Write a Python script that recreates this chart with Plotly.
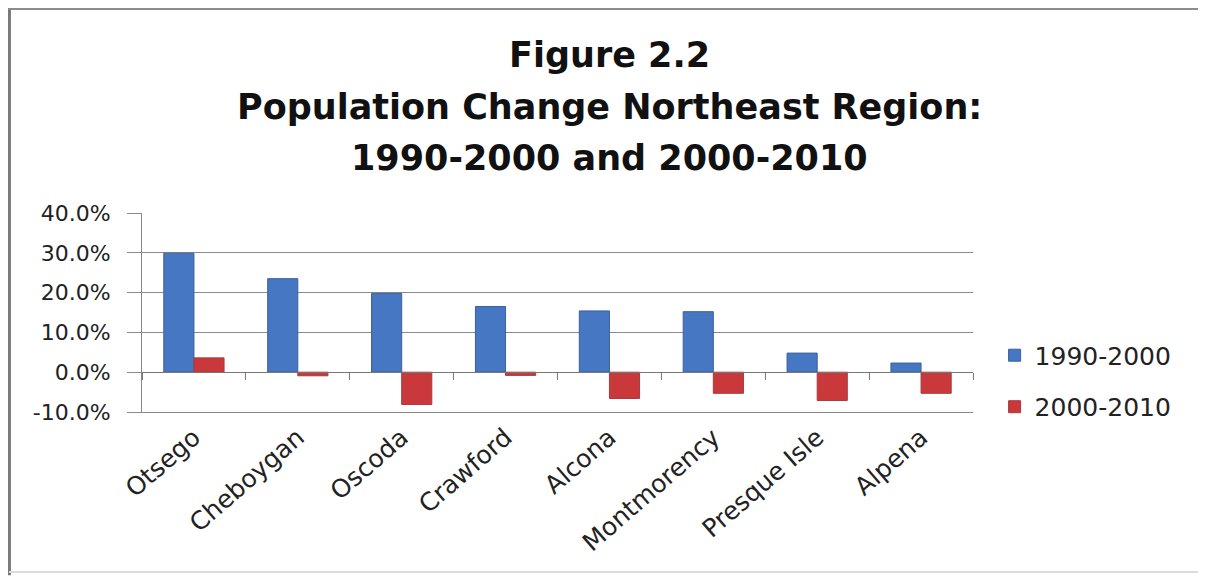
import plotly.graph_objects as go

# Population change by county (percent)
counties = ['Otsego', 'Cheboygan', 'Oscoda', 'Crawford', 'Alcona',
            'Montmorency', 'Presque Isle', 'Alpena']
change_1990_2000 = [29.9, 23.5, 19.8, 16.5, 15.4, 15.2, 4.8, 2.3]
change_2000_2010 = [3.6, -0.9, -8.1, -0.8, -6.6, -5.3, -7.1, -5.3]
y_ticks = [-10, 0, 10, 20, 30, 40]
y_tick_labels = ['-10.0%', '0.0%', '10.0%', '20.0%', '30.0%', '40.0%']
title_lines = ['Figure 2.2', 'Population Change Northeast Region:',
               '1990-2000 and 2000-2010']

font_family = 'DejaVu Sans, Verdana, sans-serif'

fig = go.Figure()

fig.add_trace(go.Bar(
    x=counties, y=change_1990_2000, name='1990-2000',
    marker=dict(color='#4677C2', line=dict(color='#3A5F9C', width=1)),
    legendgroup='a',
))
fig.add_trace(go.Bar(
    x=counties, y=change_2000_2010, name='2000-2010',
    marker=dict(color='#C9393C', line=dict(color='#A83A3A', width=1)),
    legendgroup='b',
))
# empty trace so the axis drawn at zero (with its boundary ticks) is rendered
fig.add_trace(go.Scatter(
    x=counties, y=[None] * len(counties), xaxis='x2', mode='lines',
    showlegend=False, hoverinfo='skip',
))

# page body adds 8px offset, so the figure is a bit smaller than the window
fig.update_layout(
    width=1198, height=569,
    margin=dict(l=134, r=233, t=205, b=165),
    paper_bgcolor='white', plot_bgcolor='white',
    font=dict(family=font_family, color='#1a1a1a'),
    barmode='group', bargap=0.42, bargroupgap=0,
    showlegend=True,
    legend=dict(
        x=1.026, y=0.156, xanchor='left', yanchor='middle',
        font=dict(size=25, family=font_family, color='#222'),
        tracegroupgap=16, itemwidth=30,
    ),
    xaxis=dict(
        type='category', categoryarray=counties, range=[-0.5, 7.5],
        tickangle=-41, tickfont=dict(size=25, family=font_family, color='#222'),
        showgrid=False, showline=True, linecolor='#888', linewidth=1,
        ticks='', zeroline=False,
    ),
    xaxis2=dict(
        type='category', categoryarray=counties, range=[-0.5, 7.5],
        overlaying='x', anchor='free', position=0.2, side='bottom',
        showline=True, linecolor='#777', linewidth=1,
        ticks='outside', tickson='boundaries', ticklen=7, tickcolor='#777',
        showticklabels=False, showgrid=False, zeroline=False,
    ),
    yaxis=dict(
        range=[-10, 40], tickvals=y_ticks, ticktext=y_tick_labels,
        tickfont=dict(size=22, family=font_family, color='#222'),
        showgrid=True, gridcolor='#8a8a8a', gridwidth=1,
        showline=True, linecolor='#888', linewidth=1,
        zeroline=False, ticks='outside', ticklen=14, tickcolor='#8a8a8a',
        ticklabelstandoff=12,
    ),
)

# title, one annotation per line to keep the wide line spacing
for text, ypos in zip(title_lines, [1.794, 1.533, 1.276]):
    fig.add_annotation(
        text='<b>' + text + '</b>', xref='paper', yref='paper',
        x=0.563, y=ypos, xanchor='center', yanchor='middle',
        showarrow=False, font=dict(size=35, family=font_family, color='#111'),
    )

# outer chart frame: dark left/top edges, faint right/bottom edges
fig.add_shape(type='line', xref='paper', yref='paper',
              x0=-0.1595, x1=-0.1595, y0=-0.82, y1=2.03,
              line=dict(color='#7a7a7a', width=3))
fig.add_shape(type='line', xref='paper', yref='paper',
              x0=-0.161, x1=1.273, y0=2.025, y1=2.025,
              line=dict(color='#8c8c8c', width=2))
fig.add_shape(type='line', xref='paper', yref='paper',
              x0=1.273, x1=1.273, y0=-0.804, y1=2.025,
              line=dict(color='#dcdcdc', width=1))
fig.add_shape(type='line', xref='paper', yref='paper',
              x0=-0.16, x1=1.273, y0=-0.804, y1=-0.804,
              line=dict(color='#dcdcdc', width=2))

fig.write_html('out.html')
